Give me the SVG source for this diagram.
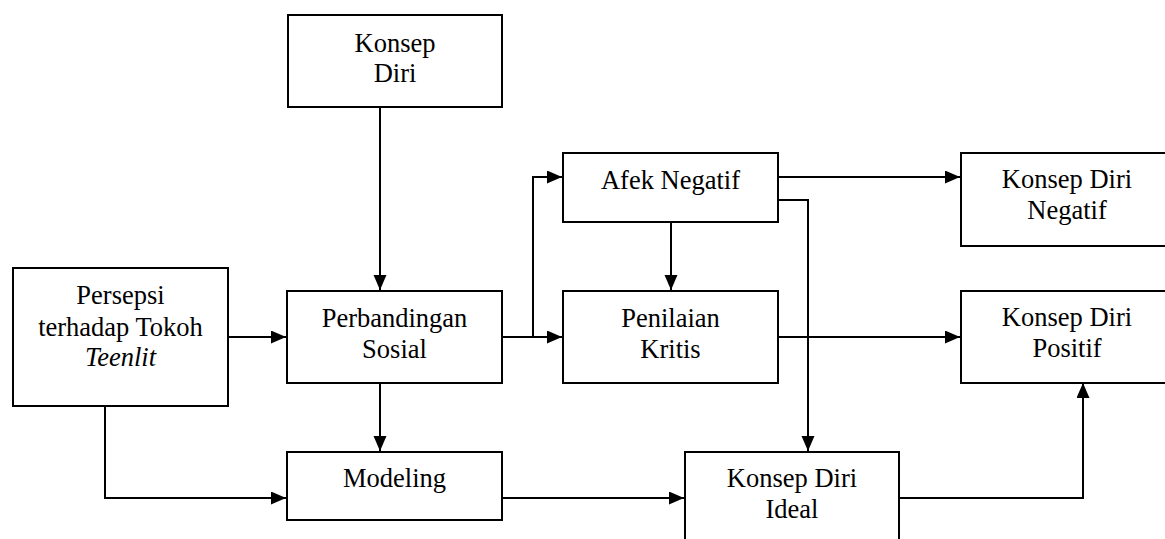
<svg xmlns="http://www.w3.org/2000/svg" width="1165" height="539" viewBox="0 0 1165 539">
<style>
  rect.box { fill: #ffffff; stroke: #000000; stroke-width: 2; }
  text { font-family: 'Liberation Serif', 'Times New Roman', serif; font-size: 26.5px; fill: #000000; text-anchor: middle; }
  .conn path { fill: none; stroke: #000000; stroke-width: 2; }
</style>
<defs>
  <marker id="arrow" markerUnits="userSpaceOnUse" markerWidth="16" markerHeight="14" refX="15" refY="6.5" orient="auto">
    <path d="M0,0 L15,6.5 L0,13 z" fill="#000000"/>
  </marker>
</defs>
<rect x="0" y="0" width="1165" height="539" fill="#ffffff"/>
<g class="conn" id="connectors">
  <path d="M380,107 L380,290" marker-end="url(#arrow)"/>
  <path d="M228,337 L286,337" marker-end="url(#arrow)"/>
  <path d="M105,406 L105,498 L286,498" marker-end="url(#arrow)"/>
  <path d="M380,383 L380,451" marker-end="url(#arrow)"/>
  <path d="M502,337 L562,337" marker-end="url(#arrow)"/>
  <path d="M533,337 L533,177 L562,177" marker-end="url(#arrow)"/>
  <path d="M671,222 L671,290" marker-end="url(#arrow)"/>
  <path d="M778,177 L960,177" marker-end="url(#arrow)"/>
  <path d="M778,200 L808,200 L808,451" marker-end="url(#arrow)"/>
  <path d="M778,337 L960,337" marker-end="url(#arrow)"/>
  <path d="M502,498 L684,498" marker-end="url(#arrow)"/>
  <path d="M899,498 L1083,498 L1083,383" marker-end="url(#arrow)"/>
</g>
<g id="konsep-diri">
  <rect class="box" x="288" y="15" width="214" height="92"/>
  <text x="395" y="52">Konsep</text>
  <text x="395" y="82">Diri</text>
</g>
<g id="persepsi">
  <rect class="box" x="13" y="268" width="215" height="138"/>
  <text x="120.5" y="304">Persepsi</text>
  <text x="120.5" y="336">terhadap Tokoh</text>
  <text x="120.5" y="366" font-style="italic">Teenlit</text>
</g>
<g id="perbandingan">
  <rect class="box" x="287" y="291" width="215" height="92"/>
  <text x="394.5" y="327">Perbandingan</text>
  <text x="394.5" y="358">Sosial</text>
</g>
<g id="afek-negatif">
  <rect class="box" x="563" y="153" width="215" height="69"/>
  <text x="670.5" y="189">Afek Negatif</text>
</g>
<g id="penilaian">
  <rect class="box" x="563" y="291" width="215" height="92"/>
  <text x="670.5" y="327">Penilaian</text>
  <text x="670.5" y="358">Kritis</text>
</g>
<g id="konsep-diri-negatif">
  <rect class="box" x="961" y="153" width="214" height="93"/>
  <text x="1067" y="188">Konsep Diri</text>
  <text x="1067" y="219">Negatif</text>
</g>
<g id="konsep-diri-positif">
  <rect class="box" x="961" y="291" width="214" height="92"/>
  <text x="1067" y="326">Konsep Diri</text>
  <text x="1067" y="357">Positif</text>
</g>
<g id="modeling">
  <rect class="box" x="287" y="452" width="215" height="68"/>
  <text x="394.5" y="487">Modeling</text>
</g>
<g id="konsep-diri-ideal">
  <rect class="box" x="685" y="452" width="214" height="100"/>
  <text x="792" y="487">Konsep Diri</text>
  <text x="792" y="518">Ideal</text>
</g>
</svg>
